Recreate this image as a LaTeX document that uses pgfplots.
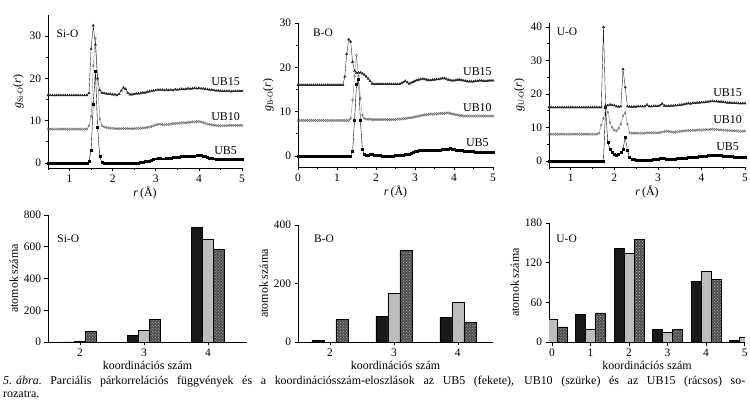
\documentclass[border=0pt]{standalone}
\usepackage{fontspec}
\setmainfont{Liberation Serif}
\usepackage{pgfplots}
\usepackage{pgfplotstable}
\pgfplotsset{compat=1.18}
\usetikzlibrary{patterns}

\pgfplotstableread{
r a b c
0.50 0 0 0
0.55 0 0 0
0.60 0 0 0
0.65 0 0 0
0.70 0 0 0
0.75 0 0 0
0.80 0 0 0
0.85 0 0 0
0.90 0 0 0
0.95 0 0 0
1.00 0 0 0
1.05 0 0 0
1.10 0 0 0
1.15 0 0 0
1.20 0 0 0
1.25 0 0 0
1.30 0 0 0
1.35 0 0 0
1.40 0 0 0
1.45 0.3 0.8 0.5
1.50 3.0 3.0 11.0
1.55 14.0 15.0 16.5
1.60 21.7 21.5 12.0
1.65 8.5 11.8 4.0
1.70 1.5 2.4 1.2
1.75 0.2 0.8 0.6
1.80 0.0 0.5 0.5
1.85 0.0 0.4 0.4
1.90 0.0 0.3 0.3
1.95 0.0 0.2 0.3
2.00 0.0 0.2 0.2
2.05 0.0 0.1 0.2
2.10 0.0 0.1 0.0
2.15 0.0 0.1 0.3
2.20 0.0 0.1 1.1
2.25 0.0 0.1 1.8
2.30 0.0 0.1 1.5
2.35 0.0 0.1 0.6
2.40 0.0 0.1 0.2
2.45 0.0 0.1 0.2
2.50 0.0 0.1 0.3
2.55 0.0 0.2 0.4
2.60 0.0 0.2 0.4
2.65 0.1 0.2 0.5
2.70 0.2 0.3 0.6
2.75 0.3 0.3 0.6
2.80 0.4 0.4 0.8
2.85 0.5 0.5 0.9
2.90 0.6 0.6 1.0
2.95 0.8 0.8 1.1
3.00 1.0 1.0 1.2
3.05 1.1 1.1 1.3
3.10 1.1 1.2 1.3
3.15 1.0 1.1 1.3
3.20 1.0 1.0 1.2
3.25 1.1 1.1 1.3
3.30 1.2 1.1 1.2
3.35 1.2 1.2 1.3
3.40 1.3 1.3 1.2
3.45 1.3 1.3 1.4
3.50 1.4 1.4 1.3
3.55 1.4 1.4 1.4
3.60 1.5 1.5 1.5
3.65 1.5 1.5 1.4
3.70 1.6 1.5 1.5
3.75 1.6 1.6 1.6
3.80 1.6 1.6 1.5
3.85 1.7 1.7 1.6
3.90 1.7 1.7 1.7
3.95 1.8 1.8 1.6
4.00 1.8 1.8 1.7
4.05 1.8 1.7 1.6
4.10 1.7 1.6 1.6
4.15 1.5 1.4 1.5
4.20 1.3 1.2 1.4
4.25 1.2 1.1 1.3
4.30 1.1 1.0 1.3
4.35 1.0 0.9 1.2
4.40 0.9 0.9 1.1
4.45 0.9 0.8 1.1
4.50 0.9 0.8 1.0
4.55 0.8 0.8 1.0
4.60 0.8 0.8 1.0
4.65 0.8 0.8 1.0
4.70 0.9 0.9 1.0
4.75 0.9 0.9 0.9
4.80 0.9 0.9 1.0
4.85 0.9 0.9 1.0
4.90 0.9 0.9 1.0
4.95 0.9 0.9 1.0
5.00 0.9 0.9 1.0
}\siO

\pgfplotstableread{
r a b c
0.00 0 0 0
0.05 0 0 0
0.10 0 0 0
0.15 0 0 0
0.20 0 0 0
0.25 0 0 0
0.30 0 0 0
0.35 0 0 0
0.40 0 0 0
0.45 0 0 0
0.50 0 0 0
0.55 0 0 0
0.60 0 0 0
0.65 0 0 0
0.70 0 0 0
0.75 0 0 0
0.80 0 0 0
0.85 0 0 0
0.90 0 0 0
0.95 0 0 0
1.00 0 0 0
1.05 0 0 0
1.10 0 0 0
1.15 0 0 0
1.20 0 0 1.9
1.25 0 0 7.0
1.30 0 0 10.3
1.35 0 0.5 9.8
1.40 1.0 4.6 5.2
1.45 8.0 10.0 3.2
1.50 16.2 14.7 2.7
1.55 17.3 10.0 2.8
1.60 8.0 5.0 2.8
1.65 1.5 1.2 2.6
1.70 0.4 0.5 2.3
1.75 0.2 0.3 1.9
1.80 0.2 0.3 1.4
1.85 0.3 0.3 0.9
1.90 0.5 0.2 0.3
1.95 0.2 0.2 0.2
2.00 0.1 0.2 0.2
2.05 0.1 0.2 0.2
2.10 0.1 0.2 0.2
2.15 0.0 0.2 0.2
2.20 0.0 0.2 0.2
2.25 0.0 0.2 0.2
2.30 0.0 0.2 0.2
2.35 0.0 0.2 0.2
2.40 0.0 0.2 0.2
2.45 0.0 0.2 0.2
2.50 0.1 0.2 0.2
2.55 0.1 0.3 0.2
2.60 0.2 0.3 0.2
2.65 0.2 0.3 0.4
2.70 0.2 0.4 0.6
2.75 0.3 0.4 0.9
2.80 0.4 0.5 0.6
2.85 0.5 0.6 0.3
2.90 0.7 0.6 0.5
2.95 0.8 0.7 0.7
3.00 1.0 0.8 0.9
3.05 1.1 0.9 1.1
3.10 1.2 1.0 1.2
3.15 1.2 1.1 1.3
3.20 1.2 1.2 1.4
3.25 1.3 1.3 1.3
3.30 1.3 1.3 1.2
3.35 1.2 1.4 1.1
3.40 1.3 1.5 1.1
3.45 1.3 1.4 1.2
3.50 1.3 1.5 1.2
3.55 1.4 1.5 1.3
3.60 1.4 1.5 1.3
3.65 1.4 1.6 1.4
3.70 1.5 1.6 1.5
3.75 1.5 1.6 1.5
3.80 1.5 1.7 1.4
3.85 1.6 1.7 1.2
3.90 1.7 1.6 1.1
3.95 1.6 1.5 1.0
4.00 1.5 1.4 1.0
4.05 1.4 1.3 1.1
4.10 1.4 1.2 1.2
4.15 1.3 1.1 1.2
4.20 1.2 1.1 1.1
4.25 1.1 1.0 1.0
4.30 1.1 1.0 0.9
4.35 1.0 1.0 0.8
4.40 1.0 1.0 0.8
4.45 1.0 1.0 0.8
4.50 1.0 1.0 0.8
4.55 0.9 1.0 0.9
4.60 0.9 1.0 0.9
4.65 0.9 1.0 1.0
4.70 0.9 1.0 1.0
4.75 0.9 1.0 0.9
4.80 0.9 1.0 0.9
4.85 0.9 1.0 0.9
4.90 0.9 1.0 1.0
4.95 0.9 1.0 1.0
5.00 0.9 1.0 1.0
}\bO

\pgfplotstableread{
r a b c
0.50 0 0 0
0.55 0 0 0
0.60 0 0 0
0.65 0 0 0
0.70 0 0 0
0.75 0 0 0
0.80 0 0 0
0.85 0 0 0
0.90 0 0 0
0.95 0 0 0
1.00 0 0 0
1.05 0 0 0
1.10 0 0 0
1.15 0 0 0
1.20 0 0 0
1.25 0 0 0
1.30 0 0 0
1.35 0 0 0
1.40 0 0 0
1.45 0 0 0
1.50 0 0 0
1.55 0 0 0
1.60 0 0 0
1.65 0 0.3 0
1.70 0 2.7 0
1.75 0 4.7 24.0
1.80 16.0 7.7 0.5
1.85 5.5 6.5 0.6
1.90 3.5 3.5 0.8
1.95 2.5 2.0 0.7
2.00 2.0 1.2 0.6
2.05 1.8 1.0 0.3
2.10 2.0 1.8 0.2
2.15 2.5 3.0 0.3
2.20 3.5 5.5 11.4
2.25 7.2 6.4 6.0
2.30 3.3 3.0 0.3
2.35 1.0 0.4 0.2
2.40 0.6 0.3 0.2
2.45 0.4 0.3 0.2
2.50 0.3 0.3 0.2
2.55 0.2 0.3 0.3
2.60 0.1 0.3 0.3
2.65 0.1 0.3 0.3
2.70 0.2 0.3 0.3
2.75 0.2 0.4 0.8
2.80 0.3 0.4 0.3
2.85 0.3 0.4 0.3
2.90 0.4 0.4 0.4
2.95 0.5 0.4 0.4
3.00 0.6 0.4 0.4
3.05 0.8 0.5 0.6
3.10 0.9 0.6 1.1
3.15 0.7 0.8 0.5
3.20 0.5 0.9 0.4
3.25 0.4 0.8 0.4
3.30 0.4 0.7 0.5
3.35 0.5 0.6 0.5
3.40 0.6 0.6 0.6
3.45 0.7 0.7 0.6
3.50 0.7 0.8 0.7
3.55 0.8 0.9 0.8
3.60 0.9 1.0 0.9
3.65 0.8 1.0 1.1
3.70 1.0 1.1 1.2
3.75 1.1 1.1 1.1
3.80 1.0 1.2 1.3
3.85 1.1 1.1 1.3
3.90 1.2 1.2 1.4
3.95 1.3 1.3 1.4
4.00 1.3 1.2 1.5
4.05 1.4 1.3 1.5
4.10 1.5 1.4 1.6
4.15 1.6 1.3 1.7
4.20 1.7 1.4 1.8
4.25 1.8 1.5 1.9
4.30 1.8 1.4 1.8
4.35 1.7 1.4 1.8
4.40 1.6 1.3 1.7
4.45 1.6 1.3 1.7
4.50 1.5 1.2 1.6
4.55 1.4 1.2 1.5
4.60 1.4 1.1 1.4
4.65 1.3 1.1 1.4
4.70 1.3 1.0 1.3
4.75 1.2 1.0 1.3
4.80 1.2 1.0 1.3
4.85 1.1 0.9 1.2
4.90 1.1 0.9 1.2
4.95 1.0 0.9 1.2
5.00 1.0 0.9 1.2
}\uO

\definecolor{lgray}{HTML}{BDBDBD}
\definecolor{mgray}{HTML}{8A8A8A}

\tikzset{
  curvelab/.style={font=\fontsize{12}{14}\selectfont, anchor=center},
  panlab/.style={font=\fontsize{11.5}{13}\selectfont, anchor=west},
}

\pgfplotsset{
  base/.style={
    scale only axis,
    axis x line*=bottom, axis y line*=left,
    tick align=outside,
    axis line style={line width=0.7pt},
    every tick/.style={black, line width=0.6pt},
    major tick length=3.5bp, minor tick length=2bp,
    /pgf/number format/assume math mode=true,
    tick label style={font=\fontsize{11.5}{13}\selectfont},
    label style={font=\fontsize{12}{14}\selectfont},
    anchor=south west,
  },
  gpanel/.style={
    base, xmax=5, xtick={0,1,...,5}, minor x tick num=1, minor y tick num=1,
    xlabel={\textit{r}\,(Å)},
    xlabel style={yshift=3pt},
    ylabel style={yshift=-1pt},
    clip=false,
  },
  bpanel/.style={
    base, ybar=0pt, ymin=0, xtick=data,
    xlabel={koordinációs szám}, ylabel={atomok száma},
    xlabel style={yshift=2.5pt},
    ylabel style={yshift=-1pt},
  },
  ub5/.style={black, line width=0.4pt, mark=square*, mark size=1.0pt, mark options={solid}},
  ub10/.style={mgray, line width=0.4pt, mark=diamond, mark size=1.3pt, mark options={solid, draw=black!70, line width=0.3pt}},
  ub15/.style={black!85, line width=0.4pt, mark=triangle*, mark size=1.3pt, mark options={solid}},
  b5/.style={draw=black, fill=black!90, line width=0.5pt},
  b10/.style={draw=black, fill=lgray, line width=0.5pt},
  b15/.style={draw=black, fill=black!70, line width=0.5pt, postaction={pattern=crosshatch dots, pattern color=white!75!black}},
}

\begin{document}
\begin{tikzpicture}
\useasboundingbox (0,0) rectangle (750bp,406bp);

% ---- Top row ----
\begin{axis}[gpanel, at={(48bp,238bp)}, width=194bp, height=153bp,
  xmin=0.5, ymin=-1.2, ymax=35, ytick={0,10,20,30},
  ylabel={\textit{g}\textsubscript{Si-O}(\textit{r})}]
  \addplot[ub5] table[x=r,y=a]{\siO};
  \addplot[ub10] table[x=r,y expr=\thisrow{b}+8]{\siO};
  \addplot[ub15] table[x=r,y expr=\thisrow{c}+16]{\siO};
  \node[curvelab] at (axis cs:4.62,19.3) {UB15};
  \node[curvelab] at (axis cs:4.62,10.9) {UB10};
  \node[curvelab] at (axis cs:4.62,2.9) {UB5};
  \node[panlab] at (axis cs:0.62,30.5) {Si-O};
\end{axis}

\begin{axis}[gpanel, at={(298bp,239bp)}, width=195bp, height=144bp,
  xmin=0, ymin=-2.5, ymax=30, ytick={0,10,20,30},
  ylabel={\textit{g}\textsubscript{B-O}(\textit{r})}]
  \addplot[ub5] table[x=r,y=a]{\bO};
  \addplot[ub10] table[x=r,y expr=\thisrow{b}+8]{\bO};
  \addplot[ub15] table[x=r,y expr=\thisrow{c}+16]{\bO};
  \node[curvelab] at (axis cs:4.6,19.0) {UB15};
  \node[curvelab] at (axis cs:4.6,11.0) {UB10};
  \node[curvelab] at (axis cs:4.6,3.0) {UB5};
  \node[panlab] at (axis cs:0.3,27.7) {B-O};
\end{axis}

\begin{axis}[gpanel, at={(549bp,239bp)}, width=196bp, height=144bp,
  xmin=0.5, ymin=-1.8, ymax=41.2, ytick={0,10,20,30,40},
  ylabel={\textit{g}\textsubscript{U-O}(\textit{r})}]
  \addplot[ub5] table[x=r,y=a]{\uO};
  \addplot[ub10] table[x=r,y expr=\thisrow{b}+8]{\uO};
  \addplot[ub15] table[x=r,y expr=\thisrow{c}+16]{\uO};
  \node[curvelab] at (axis cs:4.6,20.3) {UB15};
  \node[curvelab] at (axis cs:4.6,12.5) {UB10};
  \node[curvelab] at (axis cs:4.6,4.2) {UB5};
  \node[panlab] at (axis cs:0.6,38.5) {U-O};
\end{axis}

% ---- Bottom row ----
\begin{axis}[bpanel, at={(48bp,64bp)}, width=199bp, height=127bp,
  xmin=1.5, xmax=4.61, ymax=800, ytick={0,200,400,600,800}, bar width=11bp]
  \addplot[b5] coordinates {(2,0) (3,40) (4,723)};
  \addplot[b10] coordinates {(2,5) (3,71) (4,646)};
  \addplot[b15] coordinates {(2,66) (3,141) (4,585)};
  \node[panlab] at (rel axis cs:0.03,0.81) {Si-O};
\end{axis}

\begin{axis}[bpanel, at={(298bp,64bp)}, width=195bp, height=117bp,
  xmin=1.5, xmax=4.55, ymax=400, ytick={0,200,400}, bar width=12bp]
  \addplot[b5] coordinates {(2,5) (3,88) (4,84)};
  \addplot[b10] coordinates {(2,0) (3,166) (4,135)};
  \addplot[b15] coordinates {(2,78) (3,313) (4,66)};
  \node[panlab] at (rel axis cs:0.065,0.88) {B-O};
\end{axis}

\begin{axis}[bpanel, at={(549bp,64bp)}, width=196bp, height=119bp,
  xmin=-0.08, xmax=5.01, ymax=180, ytick={0,60,120,180}, bar width=10bp]
  \addplot[b5] coordinates {(0,0) (1,42) (2,142) (3,19) (4,92) (5,2)};
  \addplot[b10] coordinates {(0,35) (1,20) (2,134) (3,14) (4,107) (5,7)};
  \addplot[b15] coordinates {(0,23) (1,44) (2,155) (3,19) (4,95) (5,0)};
  \node[panlab] at (rel axis cs:0.02,0.87) {U-O};
\end{axis}

% ---- Caption ----
\node[anchor=base west, inner sep=0pt, font=\fontsize{12}{14}\selectfont] at (3bp,22bp)
  {\makebox[742bp][s]{\mbox{\textit{5. ábra}.} Parciális párkorrelációs függvények és a koordinációsszám-eloszlások az UB5 (fekete), UB10 (szürke) és az UB15 (rácsos) so-}};
\node[anchor=base west, inner sep=0pt, font=\fontsize{12}{14}\selectfont] at (3bp,9bp) {rozatra.};
\end{tikzpicture}
\end{document}
